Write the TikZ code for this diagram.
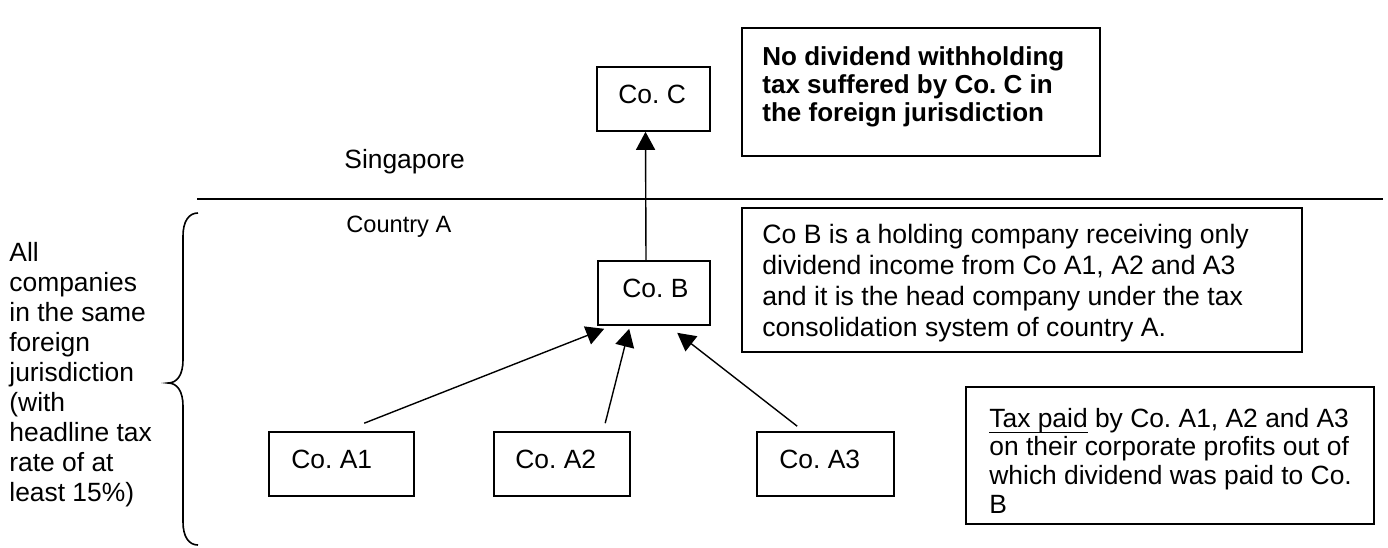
\documentclass[tikz,border=0pt]{standalone}
\usepackage{fontspec}
\setmainfont{Liberation Sans}
\usetikzlibrary{arrows.meta,fit,calc}
\newcommand\mlines[1]{\begin{tabular}[t]{@{}l@{}}#1\end{tabular}}
\newcommand\uln[1]{\setbox0\hbox{#1}\rlap{\rule[-3.2pt]{\wd0}{0.6pt}}#1}
\frenchspacing
\begin{document}
\begin{tikzpicture}[x=0.5pt,y=-0.5pt,
  box/.style={draw, line width=0.8pt, inner sep=0pt},
  lbl/.style={anchor=base west, inner sep=0pt, font=\fontsize{13.2}{15}\selectfont\frenchspacing},
  arr/.style={line width=0.7pt, -{Triangle[length=9pt,width=9.5pt]}},
  rule/.style={line width=0.8pt}
]
\useasboundingbox (0,0) rectangle (1388,547);

% boxes
\node[box, fit={(597,67) (710,131)}] (C) {};
\node[box, fit={(598,261) (710,325)}] (B) {};
\node[box, fit={(269,432) (414,496)}] (A1) {};
\node[box, fit={(494,432) (630,496)}] (A2) {};
\node[box, fit={(757,432) (894,496)}] (A3) {};
\node[box, fit={(742,28) (1100,156)}] (note1) {};
\node[box, fit={(742,208) (1302,352)}] (note2) {};
\node[box, fit={(966,387) (1374,524)}] (note3) {};

% box texts
\node[lbl] (tC) at (618,103) {Co. C};
\node[lbl] (tB) at (622,297) {Co. B};
\node[lbl] (tA1) at (291,468) {Co. A1};
\node[lbl] (tA2) at (515,468) {Co. A2};
\node[lbl] (tA3) at (779,468) {Co. A3};
\node[lbl, font=\fontsize{13}{14}\selectfont\bfseries\frenchspacing] (t1) at (762,65)
  {\mlines{No dividend withholding\\tax suffered by Co. C in\\the foreign jurisdiction}};
\node[lbl, font=\fontsize{13.3}{15.5}\selectfont\frenchspacing] (t2) at (762,243)
  {\mlines{Co B is a holding company receiving only\\dividend income from Co A1, A2 and A3\\and it is the head company under the tax\\consolidation system of country A.}};
\node[lbl, font=\fontsize{13.2}{14.4}\selectfont\frenchspacing] (t3) at (989,427)
  {\mlines{\uln{Tax paid} by Co. A1, A2 and A3\\on their corporate profits out of\\which dividend was paid to Co.\\B}};

% region labels
\node[lbl] (sg) at (344,168) {Singapore};
\node[lbl, font=\fontsize{11.8}{14}\selectfont] (ca) at (346,232) {Country A};
\node[lbl] (left) at (9,261)
  {\mlines{All\\companies\\in the same\\foreign\\jurisdiction\\(with\\headline tax\\rate of at\\least 15\%)}};

% border line
\coordinate (hl) at (197,199);
\coordinate (hr) at (1383,199);
\draw[rule] (hl) -- (hr);

% brace
\draw[rule] (198,213) .. controls (189,213) and (183,221) .. (183,236) -- (183,360)
  .. controls (183,375) and (177,383) .. (168,383)
  .. controls (177,383) and (183,391) .. (183,406) -- (183,522)
  .. controls (183,537) and (189,545) .. (198,545);

% arrows
\draw[arr] ([xshift=-4pt]B.north) -- ([xshift=-4pt]C.south);
\draw[arr] ($(A1.north west)+(96,-8)$) -- ($(B.south west)+(7,3)$);
\draw[arr] ($(A2.north west)+(112,-8)$) -- ($(B.south west)+(32,3)$);
\draw[arr] ($(A3.north west)+(41,-5)$) -- ($(B.south west)+(80,7)$);
\end{tikzpicture}
\end{document}
